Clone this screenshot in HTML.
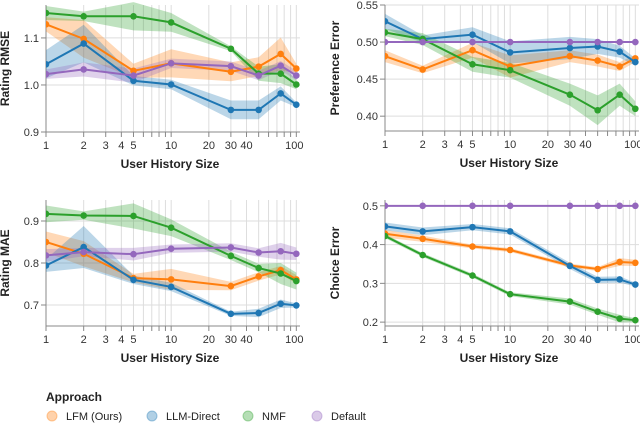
<!DOCTYPE html>
<html><head><meta charset="utf-8"><style>
body{margin:0;background:#fff;}
svg{display:block;font-family:"Liberation Sans",sans-serif;}
</style></head><body>
<svg id="chart" width="640" height="425" viewBox="0 0 640 425"></svg>
<script>
const xs = [1,2,5,10,30,50,75,100];
const seriesNames = ["LFM (Ours)","LLM-Direct","NMF","Default"];
const colors = ["#ff7f0e","#1f77b4","#2ca02c","#9467bd"];
// Rating RMSE
const rmseLFM = [1.129,1.098,1.030,1.046,1.028,1.039,1.066,1.035];
const rmseLLM = [1.044,1.088,1.009,1.001,0.947,0.947,0.982,0.958];
const rmseNMF = [1.153,1.146,1.146,1.133,1.077,1.024,1.024,1.001];
const rmseDef = [1.023,1.033,1.020,1.046,1.040,1.020,1.041,1.020];
const rmseErrLFM = [.015,.04,.015,.03,.02,.02,.035,.01];
const rmseErrLLM = [.03,.04,.01,.01,.02,.02,.015,.005];
const rmseErrNMF = [.015,.01,.03,.02,.005,.015,.02,.01];
const rmseErrDef = [.01,.015,.015,.01,.01,.01,.01,.01];
// Preference error
const prefLFM = [.481,.463,.489,.467,.481,.475,.467,.478];
const prefLLM = [.528,.504,.510,.486,.492,.494,.487,.473];
const prefNMF = [.513,.504,.470,.462,.429,.408,.429,.410];
const prefDef = [.5,.5,.5,.5,.5,.5,.5,.5];
const prefErrLFM = [.008,.005,.01,.015,.008,.008,.006,.005];
const prefErrLLM = [.01,.005,.01,.015,.015,.01,.008,.005];
const prefErrNMF = [.005,.008,.01,.01,.015,.02,.015,.01];
const prefErrDef = [0,0,0,0,0,0,0,0];
// Rating MAE
const maeLFM = [.850,.822,.764,.761,.745,.768,.783,.761];
const maeLLM = [.794,.838,.760,.743,.679,.681,.703,.699];
const maeNMF = [.917,.913,.912,.884,.817,.788,.775,.757];
const maeDef = [.818,.826,.821,.834,.837,.825,.828,.822];
const maeErrLFM = [.025,.03,.01,.025,.01,.01,.01,.01];
const maeErrLLM = [.015,.05,.01,.01,.005,.01,.01,.005];
const maeErrNMF = [.02,.01,.03,.02,.01,.01,.025,.02];
const maeErrDef = [.015,.01,.015,.01,.01,.01,.02,.015];
// Choice error
const choiceLFM = [.428,.415,.395,.386,.346,.337,.355,.353];
const choiceLLM = [.447,.434,.445,.434,.345,.309,.310,.297];
const choiceNMF = [.422,.373,.320,.272,.253,.227,.209,.205];
const choiceDef = [.5,.5,.5,.5,.5,.5,.5,.5];
const choiceErrLFM = [.01,.008,.005,.005,.005,.005,.01,.008];
const choiceErrLLM = [.01,.01,.008,.008,.008,.008,.008,.005];
const choiceErrNMF = [.005,.005,.005,.005,.008,.008,.01,.005];
const choiceErrDef = [0,0,0,0,0,0,0,0];
const xTickLabels = ["1","2","3","4","5","10","20","30","40","100"];
const xTickVals = [1,2,3,4,5,10,20,30,40,100];

const NS="http://www.w3.org/2000/svg";
const svg=document.getElementById('chart');
function mk(tag,attrs,parent){const e=document.createElementNS(NS,tag);for(const k in attrs)e.setAttribute(k,attrs[k]);(parent||svg).appendChild(e);return e;}

function panel(cfg){
  const g=mk('g',{});
  
  
  const {x0,x1,y0,y1,dmin,dmax}=cfg;
  const X=v=>x0+(Math.log10(v)/Math.log10(107))*(x1-x0);
  const Y=v=>y1-(v-dmin)/(dmax-dmin)*(y1-y0);
  // minor vertical grid
  const grid=[];for(let d=1;d<=100;d*=10)for(let k=1;k<10;k++){const v=d*k;if(v<=107)grid.push(v);}
  grid.forEach(v=>{const l=mk('line',{x1:X(v),x2:X(v),y1:y0,y2:y1,stroke:'#ddd','stroke-width':1},g);
    });
  cfg.yticks.forEach((t,i)=>{const l=mk('line',{x1:x0,x2:x1,y1:Y(t),y2:Y(t),stroke:'#ddd','stroke-width':1},g);
    
    mk('line',{x1:x0-5,x2:x0,y1:Y(t),y2:Y(t),stroke:'#888'},g);
    const tx=mk('text',{x:x0-7,y:Y(t)+4,'text-anchor':'end','font-size':11,fill:'#333'},g);tx.textContent=cfg.ylabels[i];
    });
  mk('line',{x1:x0,x2:x0,y1:y0,y2:y1,stroke:'#888'},g);
  mk('line',{x1:x0,x2:x1,y1:y1,y2:y1,stroke:'#888'},g);
  grid.forEach(v=>mk('line',{x1:X(v),x2:X(v),y1:y1,y2:y1+5,stroke:'#888'},g));
  xTickVals.forEach((v,i)=>{const tx=mk('text',{x:X(v)+(v===100?-2:0),y:y1+17,'text-anchor':'middle','font-size':11,fill:'#333'},g);
    tx.textContent=xTickLabels[i];});
  const xt=mk('text',{x:(x0+x1)/2-3,y:y1+36,'text-anchor':'middle','font-size':12,'font-weight':'bold',fill:'#222'},g);
  xt.textContent='User History Size';
  const yc=(y0+y1)/2;
  const yt=mk('text',{x:cfg.ytx,y:yc,'text-anchor':'middle','font-size':12,'font-weight':'bold',fill:'#222',transform:`rotate(-90 ${cfg.ytx} ${yc})`},g);
  yt.textContent=cfg.ytitle;
  const clip=mk('clipPath',{id:cfg.name+'-clip'},g);mk('rect',{x:x0,y:y0-3,width:x1-x0+4,height:y1-y0+3},clip);
  const pg=mk('g',{'clip-path':`url(#${cfg.name}-clip)`},g);
  cfg.series.forEach((s,si)=>{
    const vals=s[0],err=s[1],c=colors[si];
    let top=xs.map((x,i)=>`${X(x)},${Y(vals[i]+err[i])}`);
    let bot=xs.map((x,i)=>`${X(x)},${Y(vals[i]-err[i])}`).reverse();
    const band=mk('polygon',{points:top.concat(bot).join(' '),fill:c,'fill-opacity':0.3},pg);
    
  });
  cfg.series.forEach((s,si)=>{
    const vals=s[0],c=colors[si];
    const ln=mk('polyline',{points:xs.map((x,i)=>`${X(x)},${Y(vals[i])}`).join(' '),fill:'none',stroke:c,'stroke-width':2},pg);
    
    xs.forEach((x,i)=>{const p=mk('circle',{cx:X(x),cy:Y(vals[i]),r:3.3,fill:c},pg);
      });
  });
}
panel({name:'rmse-panel',x0:46,x1:300,y0:5,y1:132,dmin:0.9,dmax:1.17,yticks:[0.9,1.0,1.1],ylabels:['0.9','1.0','1.1'],ytitle:'Rating RMSE',ytx:9,
  series:[[rmseLFM,rmseErrLFM],[rmseLLM,rmseErrLLM],[rmseNMF,rmseErrNMF],[rmseDef,rmseErrDef]]});
panel({name:'preference-panel',x0:385,x1:639,y0:5,y1:131,dmin:0.38,dmax:0.55,yticks:[0.40,0.45,0.50,0.55],ylabels:['0.40','0.45','0.50','0.55'],ytitle:'Preference Error',ytx:339,
  series:[[prefLFM,prefErrLFM],[prefLLM,prefErrLLM],[prefNMF,prefErrNMF],[prefDef,prefErrDef]]});
panel({name:'mae-panel',x0:46,x1:300,y0:200,y1:326,dmin:0.65,dmax:0.95,yticks:[0.7,0.8,0.9],ylabels:['0.7','0.8','0.9'],ytitle:'Rating MAE',ytx:9,
  series:[[maeLFM,maeErrLFM],[maeLLM,maeErrLLM],[maeNMF,maeErrNMF],[maeDef,maeErrDef]]});
panel({name:'choice-panel',x0:385,x1:639,y0:200,y1:326,dmin:0.19,dmax:0.515,yticks:[0.2,0.3,0.4,0.5],ylabels:['0.2','0.3','0.4','0.5'],ytitle:'Choice Error',ytx:339,
  series:[[choiceLFM,choiceErrLFM],[choiceLLM,choiceErrLLM],[choiceNMF,choiceErrNMF],[choiceDef,choiceErrDef]]});
// legend
const lg=mk('g',{});


const lt=mk('text',{x:46,y:401,'font-size':12,'font-weight':'bold',fill:'#222'},lg);lt.textContent='Approach';
const lcx=[52,152,248,317];
seriesNames.forEach((n,i)=>{
  const e=mk('g',{},lg);
  
  
  mk('circle',{cx:lcx[i],cy:416,r:5,fill:colors[i],'fill-opacity':0.35,stroke:colors[i],'stroke-opacity':0.4},e);
  const t=mk('text',{x:lcx[i]+14,y:420,'font-size':11,fill:'#222'},e);t.textContent=n;
});
</script>
</body></html>
